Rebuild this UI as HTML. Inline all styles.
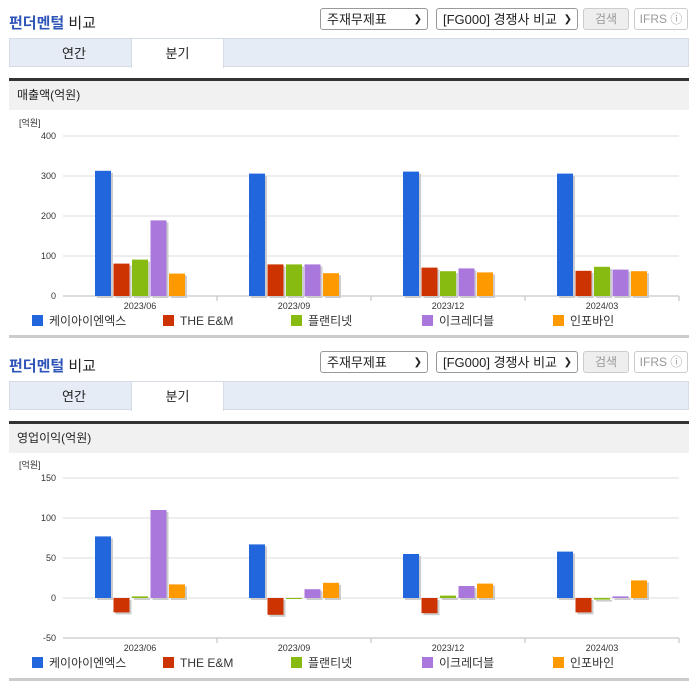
<!DOCTYPE html>
<html><head><meta charset="utf-8">
<style>
body{margin:0;width:696px;height:684px;background:#fff;font-family:"Liberation Sans","Noto Sans CJK KR",sans-serif;position:relative;overflow:hidden}
.sec{position:absolute;left:0;width:696px;height:343px}
.ttl{position:absolute;left:9px;top:12px;font-size:15px;font-weight:bold;color:#2f55b8}
.ttl span{color:#222;font-weight:normal}
.sel{position:absolute;top:8px;height:22px;border:1px solid #999;border-radius:3px;font-size:13px;line-height:22px;padding-left:6px;box-sizing:border-box;color:#222;background:#fff}
.sel i{position:absolute;right:5px;top:0;font-style:normal;font-size:10px}
.btn{position:absolute;top:8px;height:22px;border:1px solid #ccc;border-radius:3px;font-size:12px;line-height:20px;text-align:center;box-sizing:border-box;color:#999;background:#eee}
.tabs{position:absolute;left:9px;top:38px;width:680px;height:29px;background:#e6ecf5;border:1px solid #d5dce8;box-sizing:border-box}
.tab{position:absolute;top:0;height:29px;width:92px;text-align:center;line-height:29px;font-size:13px;color:#222}
.band{position:absolute;left:9px;top:78px;width:680px;height:32px;background:#f1f1f1;border-top:3px solid #333;box-sizing:border-box;font-size:12px;line-height:29px;padding-left:8px;color:#222}
.bot{position:absolute;left:9px;width:680px;height:3px;background:#ccc}
svg{position:absolute;left:0}
</style></head><body>
<div class="sec" id="s1" style="top:0"></div>
<div class="sec" id="s2" style="top:343px"></div>
<script>
const categories=["2023/06","2023/09","2023/12","2024/03"];
const seriesNames=["케이아이엔엑스","THE E&M","플랜티넷","이크레더블","인포바인"];
const seriesColors=["#2266dd","#cc3300","#88bb11","#aa77dd","#ff9900"];
const revKIN=[313,306,311,306];
const revTHE=[81,79,71,63];
const revPLA=[91,79,62,73];
const revICR=[189,79,69,66];
const revINF=[56,57,59,62];
const revTicks=[0,100,200,300,400];
const opKIN=[77,67,55,58];
const opTHE=[-18,-21,-19,-18];
const opPLA=[2,0,3,-2];
const opICR=[110,11,15,2];
const opINF=[17,19,18,22];
const opTicks=[-50,0,50,100,150];
const NS="http://www.w3.org/2000/svg";
function header(sec,label){
  sec.innerHTML=`<div class="ttl">펀더멘털 <span>비교</span></div>
<div class="sel" style="left:320px;width:108px">주재무제표<i>❯</i></div>
<div class="sel" style="left:436px;width:142px">[FG000] 경쟁사 비교<i>❯</i></div>
<div class="btn" style="left:583px;width:46px">검색</div>
<div class="btn" style="left:634px;width:54px;background:#fff">IFRS ⓘ</div>
<div class="tabs">
<div class="tab" style="left:18px">연간</div>
<div class="tab" style="left:121px;background:#fff;border:1px solid #d5dce8;border-bottom:none;height:29px;top:-1px;width:91px">분기</div></div>
<div class="band">${label}</div>
<div class="bot" style="top:335px"></div>`;
}
function chart(sec,ticks,series,top,bottom){
  const svg=document.createElementNS(NS,"svg");
  svg.setAttribute("width",696);svg.setAttribute("height",343);svg.setAttribute("style","top:0");
  
  
  const L=63,R=679,mn=ticks[0],mx=ticks[ticks.length-1];
  const y=v=>bottom-(v-mn)/(mx-mn)*(bottom-top);
  const bw=(R-L)/categories.length;
  let h=`<text x="19" y="${top-10}" font-size="9" fill="#333">[억원]</text>`;
  ticks.forEach(t=>{h+=`<line x1="${L}" x2="${R}" y1="${y(t)}" y2="${y(t)}" stroke="#ddd"/><text x="${L-7}" y="${y(t)+3}" font-size="9" text-anchor="end" fill="#333">${t}</text>`;});
  h+=`<line x1="${L}" x2="${R}" y1="${bottom}" y2="${bottom}" stroke="#bbb"/>`;
  categories.forEach((c,i)=>{const cx=L+bw*(i+0.5);
    h+=`<line x1="${L+bw*(i+1)}" x2="${L+bw*(i+1)}" y1="${bottom}" y2="${bottom+5}" stroke="#bbb"/><text x="${cx}" y="${bottom+13}" font-size="9" text-anchor="middle" fill="#333">${c}</text>`;
    series.forEach((s,j)=>{const x=cx-45+j*18.5;const v=s[i];const y0=y(0),y1=y(v);
      h+=`<rect x="${x+2}" y="${Math.min(y0,y1)+2}" width="16" height="${Math.abs(y1-y0)}" fill="#ccc"/><rect x="${x}" y="${Math.min(y0,y1)}" width="16" height="${Math.max(Math.abs(y1-y0),1)}" fill="${seriesColors[j]}"/>`;});
  });
  const lx=[32,163,291,422,553];
  seriesNames.forEach((n,j)=>{h+=`<rect x="${lx[j]}" y="${bottom+19}" width="11" height="11" fill="${seriesColors[j]}"/><text x="${lx[j]+17}" y="${bottom+29}" font-size="12" fill="#333">${n}</text>`;});
  svg.innerHTML=h;sec.appendChild(svg);
}
const s1=document.getElementById("s1"),s2=document.getElementById("s2");
header(s1,"매출액(억원)");header(s2,"영업이익(억원)");
chart(s1,revTicks,[revKIN,revTHE,revPLA,revICR,revINF],136,296);
chart(s2,opTicks,[opKIN,opTHE,opPLA,opICR,opINF],135,295);
</script>
</body></html>
